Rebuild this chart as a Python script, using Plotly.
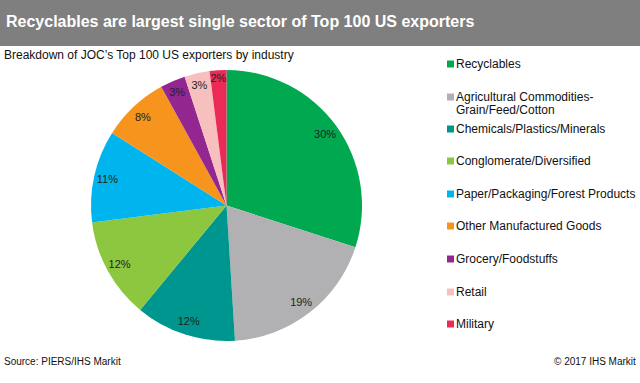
import plotly.graph_objects as go

# ---- data ----
industries = [
    "Recyclables",
    "Agricultural Commodities-Grain/Feed/Cotton",
    "Chemicals/Plastics/Minerals",
    "Conglomerate/Diversified",
    "Paper/Packaging/Forest Products",
    "Other Manufactured Goods",
    "Grocery/Foodstuffs",
    "Retail",
    "Military",
]
shares = [30, 19, 12, 12, 11, 8, 3, 3, 2]
legend_text = [
    "Recyclables",
    "Agricultural Commodities-<br>Grain/Feed/Cotton",
    "Chemicals/Plastics/Minerals",
    "Conglomerate/Diversified",
    "Paper/Packaging/Forest Products",
    "Other Manufactured Goods",
    "Grocery/Foodstuffs",
    "Retail",
    "Military",
]
colors = ["#00A84F", "#B1B1B4", "#009690", "#8DC63F", "#00B4EE",
          "#F7941D", "#93268F", "#F7C0BF", "#EC2A57"]

W, H = 640, 383
FONT = "Liberation Sans, Arial, sans-serif"

def px_x(x):
    return x / W

def px_y(y):
    return 1 - y / H

# pie geometry (pixels)
cx, cy, R = 226.5, 205.5, 135.5
dom = dict(x=[px_x(cx - R), px_x(cx + R)], y=[px_y(cy + R), px_y(cy - R)])

fig = go.Figure()
fig.add_trace(go.Pie(
    labels=industries, values=shares, sort=False, direction="clockwise",
    rotation=0, marker=dict(colors=colors, line=dict(width=0)),
    textinfo="none", hoverinfo="skip", domain=dom, showlegend=False,
))
fig.add_trace(go.Pie(
    labels=industries, values=shares, sort=False, direction="clockwise",
    rotation=0, hole=0.8,
    marker=dict(colors=["rgba(0,0,0,0)"] * len(shares), line=dict(width=0)),
    texttemplate="%{percent:.0%}", textposition="inside",
    insidetextorientation="horizontal",
    textfont=dict(family=FONT, size=11, color="#222222"),
    hoverinfo="skip", domain=dom, showlegend=False,
))

shapes = [dict(type="rect", xref="paper", yref="paper", x0=0, x1=1,
               y0=px_y(46), y1=1, fillcolor="#7F7F7F", line=dict(width=0),
               layer="below")]
annotations = [
    dict(text="<b>Recyclables are largest single sector of Top 100 US exporters</b>",
         x=px_x(4), y=px_y(22), xanchor="left", yanchor="middle",
         font=dict(family=FONT, size=16, color="white")),
    dict(text="Breakdown of JOC’s Top 100 US exporters by industry",
         x=px_x(2), y=px_y(55), xanchor="left", yanchor="middle",
         font=dict(family=FONT, size=12, color="#111111")),
    dict(text="Source: PIERS/IHS Markit",
         x=px_x(2), y=px_y(361), xanchor="left", yanchor="middle",
         font=dict(family=FONT, size=10, color="#111111")),
    dict(text="© 2017 IHS Markit",
         x=px_x(638), y=px_y(361), xanchor="right", yanchor="middle",
         font=dict(family=FONT, size=10, color="#111111")),
]

# custom legend
legend_rows_px = [64, 97, 129, 161, 194, 226, 259, 292, 324]
line_gap = 13
for txt, col, ly in zip(legend_text, colors, legend_rows_px):
    shapes.append(dict(type="rect", xref="paper", yref="paper",
                       x0=px_x(447), x1=px_x(454), y0=px_y(ly + 3.5), y1=px_y(ly - 3.5),
                       fillcolor=col, line=dict(width=0)))
    for i, part in enumerate(txt.split("<br>")):
        annotations.append(dict(text=part, x=px_x(453.5), y=px_y(ly + i * line_gap),
                                xanchor="left", yanchor="middle", showarrow=False,
                                font=dict(family=FONT, size=12, color="#111111")))

for a in annotations:
    a.setdefault("showarrow", False)
    a["xref"] = "paper"
    a["yref"] = "paper"

fig.update_layout(
    width=W, height=H, margin=dict(l=0, r=0, t=0, b=0),
    paper_bgcolor="white", plot_bgcolor="white",
    shapes=shapes, annotations=annotations,
    uniformtext=dict(minsize=11, mode="show"),
    showlegend=False,
)
fig.write_html("out.html", config={"displayModeBar": False},
               post_script="document.body.style.margin='0';document.body.style.padding='0';")
